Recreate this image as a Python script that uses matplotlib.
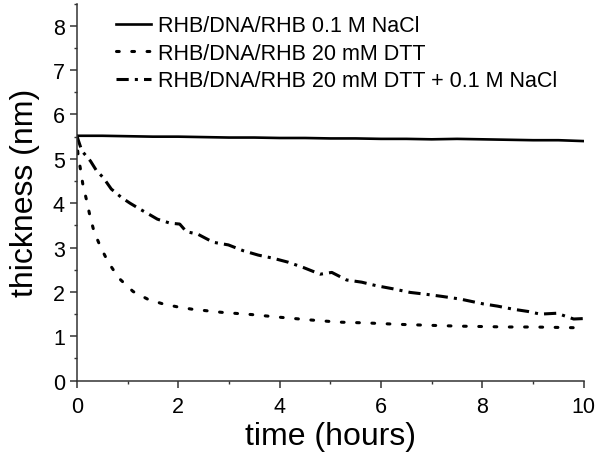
import matplotlib
matplotlib.use("Agg")
import matplotlib.pyplot as plt
from matplotlib.ticker import MultipleLocator

plt.rcParams['font.family'] = ['Liberation Sans', 'DejaVu Sans']

t_nacl = [0, 0.5, 1, 1.5, 2, 2.5, 3, 3.5, 4, 4.5, 5, 5.5, 6, 6.5, 7, 7.5, 8, 8.5, 9, 9.5, 10]
nacl = [5.52, 5.52, 5.51, 5.50, 5.50, 5.49, 5.48, 5.48, 5.47, 5.47, 5.46,
        5.46, 5.45, 5.45, 5.44, 5.45, 5.44, 5.43, 5.42, 5.42, 5.40]

t_dtt = [0, 0.02, 0.07, 0.12, 0.19, 0.26, 0.34, 0.47, 0.62, 0.83, 1.11, 1.41,
         1.70, 2.0, 2.28, 2.86, 3.45, 4.0, 4.59, 5.16, 5.75, 6.34, 6.9, 7.5,
         8.0, 8.5, 9.0, 9.5, 10]
dtt = [5.52, 5.14, 4.78, 4.42, 4.08, 3.71, 3.36, 3.01, 2.67, 2.31, 2.01, 1.83,
       1.73, 1.66, 1.61, 1.54, 1.49, 1.43, 1.37, 1.32, 1.30, 1.27, 1.25, 1.23,
       1.22, 1.21, 1.21, 1.20, 1.19]

t_mix = [0, 0.1, 0.27, 0.39, 0.52, 0.68, 0.88, 1.05, 1.24, 1.47, 1.59, 1.84,
         2.03, 2.16, 2.39, 2.69, 2.99, 3.28, 3.58, 3.87, 4.17, 4.47, 4.80, 5.03,
         5.32, 5.62, 5.91, 6.24, 6.57, 6.87, 7.2, 7.56, 8.02, 8.3, 8.61, 8.9,
         9.14, 9.47, 9.8, 10]
mix = [5.52, 5.18, 4.95, 4.73, 4.58, 4.32, 4.13, 4.00, 3.87, 3.72, 3.64, 3.55,
       3.53, 3.36, 3.30, 3.12, 3.06, 2.93, 2.83, 2.76, 2.67, 2.55, 2.40, 2.44,
       2.27, 2.22, 2.14, 2.07, 1.99, 1.95, 1.90, 1.84, 1.73, 1.68, 1.61, 1.56,
       1.50, 1.52, 1.39, 1.40]

labels = ["RHB/DNA/RHB 0.1 M NaCl",
          "RHB/DNA/RHB 20 mM DTT",
          "RHB/DNA/RHB 20 mM DTT + 0.1 M NaCl"]

fig = plt.figure(figsize=(6, 4.56), dpi=100)
ax = fig.add_axes([0.128, 0.163, 0.845, 0.827])

ax.plot(t_nacl, nacl, color="black", lw=1.9, label=labels[0])
ax.plot(t_dtt, dtt, color="black", lw=2.2, linestyle=(0, (0.9, 4.1)),
        dash_capstyle="round", label=labels[1])
ax.plot(t_mix, mix, color="black", lw=2.2, linestyle=(0, (4, 2, 1, 2)),
        label=labels[2])

ax.set_xlim(0, 10)
ax.set_ylim(0, 8.5)
ax.xaxis.set_major_locator(MultipleLocator(2))
ax.xaxis.set_minor_locator(MultipleLocator(1))
ax.yaxis.set_major_locator(MultipleLocator(1))
ax.yaxis.set_minor_locator(MultipleLocator(0.5))

for s in ["top", "right"]:
    ax.spines[s].set_visible(False)
for s in ["left", "bottom"]:
    ax.spines[s].set_linewidth(1.1)
    ax.spines[s].set_color("#333333")

ax.tick_params(which="major", length=5, width=1.1, labelsize=15.5, color="#333333")
ax.tick_params(axis="x", which="major", pad=6)
ax.tick_params(which="minor", length=2.5, width=1.0, color="#333333")

ax.set_xlabel("time (hours)", fontsize=23, labelpad=3)
ax.set_ylabel("thickness (nm)", fontsize=23, labelpad=9)

ax.legend(loc="upper left", bbox_to_anchor=(0.04, 1.02), frameon=False,
          fontsize=15.5, handlelength=1.6, handletextpad=0.35, labelspacing=0.3)

fig.savefig("out.png", dpi=100)
